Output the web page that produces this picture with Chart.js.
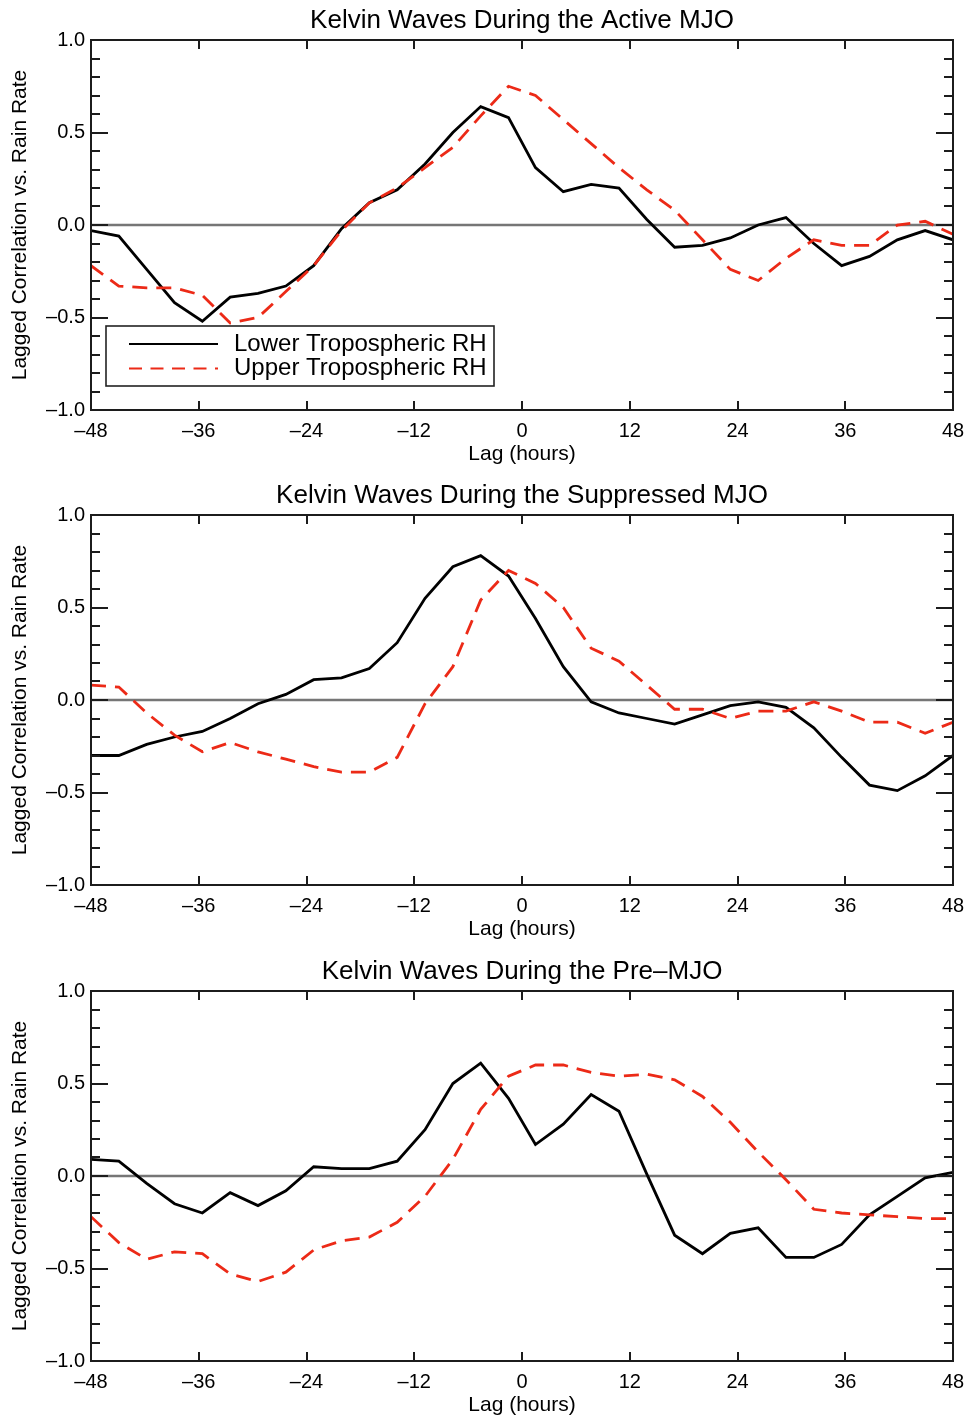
<!DOCTYPE html>
<html>
<head>
<meta charset="utf-8">
<title>Kelvin Waves lagged correlations</title>
<script src="https://cdn.jsdelivr.net/npm/chart.js@4.4.1/dist/chart.umd.min.js"></script>
<style>
  html, body { margin: 0; padding: 0; background: #ffffff; }
  #wrap { position: relative; width: 969px; height: 1418px; overflow: hidden; }
  canvas { position: absolute; left: 0; display: block; }
</style>
</head>
<body>
<div id="wrap">
  <canvas id="c0" width="969" height="475" style="top:0px"></canvas>
  <canvas id="c1" width="969" height="476" style="top:475px"></canvas>
  <canvas id="c2" width="969" height="467" style="top:951px"></canvas>
</div>
<script>
// ---------------- DATA ----------------
const lagHours = [-48, -44.9, -41.8, -38.7, -35.6, -32.5, -29.4, -26.3, -23.2, -20.1, -17.0, -13.9, -10.8, -7.7, -4.6, -1.5,
                  1.5, 4.6, 7.7, 10.8, 13.9, 17.0, 20.1, 23.2, 26.3, 29.4, 32.5, 35.6, 38.7, 41.8, 44.9, 48];

const activeLower = [-0.03, -0.06, -0.24, -0.42, -0.52, -0.39, -0.37, -0.33, -0.22, -0.02, 0.12, 0.19, 0.33, 0.50, 0.64, 0.58,
                     0.31, 0.18, 0.22, 0.20, 0.03, -0.12, -0.11, -0.07, 0.00, 0.04, -0.10, -0.22, -0.17, -0.08, -0.03, -0.08];
const activeUpper = [-0.22, -0.33, -0.34, -0.34, -0.38, -0.53, -0.50, -0.36, -0.22, -0.03, 0.12, 0.20, 0.31, 0.42, 0.59, 0.75,
                     0.70, 0.57, 0.44, 0.31, 0.19, 0.08, -0.08, -0.24, -0.30, -0.18, -0.08, -0.11, -0.11, 0.00, 0.02, -0.05];

const suppressedLower = [-0.30, -0.30, -0.24, -0.20, -0.17, -0.10, -0.02, 0.03, 0.11, 0.12, 0.17, 0.31, 0.55, 0.72, 0.78, 0.67,
                         0.44, 0.18, -0.01, -0.07, -0.10, -0.13, -0.08, -0.03, -0.01, -0.04, -0.15, -0.31, -0.46, -0.49, -0.41, -0.30];
const suppressedUpper = [0.08, 0.07, -0.07, -0.19, -0.28, -0.23, -0.28, -0.32, -0.36, -0.39, -0.39, -0.31, -0.02, 0.18, 0.54, 0.70,
                         0.63, 0.50, 0.28, 0.21, 0.08, -0.05, -0.05, -0.10, -0.06, -0.06, -0.01, -0.06, -0.12, -0.12, -0.18, -0.12];

const preLower = [0.09, 0.08, -0.04, -0.15, -0.20, -0.09, -0.16, -0.08, 0.05, 0.04, 0.04, 0.08, 0.25, 0.50, 0.61, 0.42,
                  0.17, 0.28, 0.44, 0.35, 0.01, -0.32, -0.42, -0.31, -0.28, -0.44, -0.44, -0.37, -0.21, -0.11, -0.01, 0.02];
const preUpper = [-0.22, -0.36, -0.45, -0.41, -0.42, -0.53, -0.57, -0.52, -0.40, -0.35, -0.33, -0.25, -0.11, 0.09, 0.36, 0.54,
                  0.60, 0.60, 0.56, 0.54, 0.55, 0.52, 0.43, 0.29, 0.13, -0.02, -0.18, -0.20, -0.21, -0.22, -0.23, -0.23];

const panelTitles = ['Kelvin Waves During the Active MJO',
                     'Kelvin Waves During the Suppressed MJO',
                     'Kelvin Waves During the Pre\u2013MJO'];
const seriesLabels = ['Lower Tropospheric RH', 'Upper Tropospheric RH'];
const xTickValues = [-48, -36, -24, -12, 0, 12, 24, 36, 48];
const yTickValues = [-1.0, -0.5, 0.0, 0.5, 1.0];
const xAxisTitle = 'Lag (hours)';
const yAxisTitle = 'Lagged Correlation vs. Rain Rate';

// ---------------- STYLE ----------------
const FONT = "'Liberation Sans', Arial, Helvetica, sans-serif";
const RED = '#ec2a17';
const FRAME = '#1c1c1c';
const dash = (s) => s.replace(/-/g, '\u2013');

const framePlugin = {
  id: 'idlFrame',
  beforeDatasetsDraw(chart) {
    const { ctx, chartArea: a, scales: { y } } = chart;
    const y0 = y.getPixelForValue(0);
    ctx.save();
    ctx.strokeStyle = '#767676';
    ctx.lineWidth = 2.6;
    ctx.beginPath();
    ctx.moveTo(a.left, y0);
    ctx.lineTo(a.right, y0);
    ctx.stroke();
    ctx.restore();
  },
  afterDatasetsDraw(chart) {
    const { ctx, chartArea: a, scales: { x, y } } = chart;
    ctx.save();
    ctx.strokeStyle = FRAME;
    ctx.lineWidth = 2;
    ctx.strokeRect(a.left, a.top, a.right - a.left, a.bottom - a.top);
    ctx.beginPath();
    for (let i = -10; i <= 10; i++) {
      const py = Math.round(y.getPixelForValue(i / 10));
      const len = (i % 5 === 0) ? 17 : 9;
      ctx.moveTo(a.left, py); ctx.lineTo(a.left + len, py);
      ctx.moveTo(a.right, py); ctx.lineTo(a.right - len, py);
    }
    x.ticks.forEach(t => {
      const px = Math.round(x.getPixelForValue(t.value));
      ctx.moveTo(px, a.bottom); ctx.lineTo(px, a.bottom - 9);
      ctx.moveTo(px, a.top); ctx.lineTo(px, a.top + 9);
    });
    ctx.stroke();
    ctx.restore();
  }
};

const boxLegendPlugin = {
  id: 'boxLegend',
  afterDraw(chart, args, opts) {
    if (!opts.show) return;
    const { ctx, chartArea: a } = chart;
    const left = a.left + 15, top = a.top + 286, w = 388, h = 60;
    ctx.save();
    ctx.fillStyle = '#ffffff';
    ctx.fillRect(left, top, w, h);
    ctx.strokeStyle = '#222';
    ctx.lineWidth = 1.6;
    ctx.strokeRect(left, top, w, h);
    chart.data.datasets.forEach((ds, i) => {
      const ly = top + 18 + i * 24.5;
      ctx.strokeStyle = ds.borderColor;
      ctx.lineWidth = 1.8;
      ctx.setLineDash(ds.borderDash && ds.borderDash.length ? [13, 8.5] : []);
      ctx.beginPath();
      ctx.moveTo(left + 23, ly);
      ctx.lineTo(left + 112, ly);
      ctx.stroke();
      ctx.setLineDash([]);
      ctx.fillStyle = '#000';
      ctx.font = '24px ' + FONT;
      ctx.textBaseline = 'middle';
      ctx.textAlign = 'left';
      ctx.fillText(ds.label, left + 128, ly);
    });
    ctx.restore();
  }
};

function makeChart(id, title, lower, upper, showLegend) {
  const canvas = document.getElementById(id);
  const H = canvas.height;
  const pts = (arr) => lagHours.map((h, i) => ({ x: h, y: arr[i] }));
  return new Chart(canvas, {
    type: 'line',
    data: {
      datasets: [
        { label: seriesLabels[0], data: pts(lower), borderColor: '#000000', borderWidth: 2.8,
          pointRadius: 0, tension: 0, fill: false, order: 1 },
        { label: seriesLabels[1], data: pts(upper), borderColor: RED, borderWidth: 2.8,
          borderDash: [15, 9], pointRadius: 0, tension: 0, fill: false, order: 0 }
      ]
    },
    options: {
      responsive: false,
      animation: false,
      events: [],
      layout: { padding: { left: 0, right: 16, top: 0, bottom: 0 } },
      plugins: {
        legend: { display: false },
        tooltip: { enabled: false },
        title: {
          display: true, text: title, color: '#000', fullSize: false,
          font: { family: FONT, size: 26, weight: 'normal', lineHeight: 1.2 },
          padding: { top: 5, bottom: 3.8 }
        },
        boxLegend: { show: showLegend }
      },
      scales: {
        x: {
          type: 'linear', min: -48, max: 48,
          afterBuildTicks: (s) => { s.ticks = xTickValues.map(v => ({ value: v })); },
          afterFit: (s) => { s.height = H - 410; s.paddingLeft = 0; s.paddingRight = 0; },
          grid: { display: false, drawTicks: false },
          border: { display: false },
          ticks: {
            color: '#000', padding: 9, maxRotation: 0, autoSkip: false,
            font: { family: FONT, size: 20 },
            callback: (v) => dash(String(v))
          },
          title: {
            display: true, text: xAxisTitle, color: '#000',
            font: { family: FONT, size: 21, lineHeight: 1.2 },
            padding: { top: 0, bottom: Math.max(0, H - 454 - 12.6) }
          }
        },
        y: {
          type: 'linear', min: -1, max: 1,
          afterBuildTicks: (s) => { s.ticks = yTickValues.map(v => ({ value: v })); },
          afterFit: (s) => { s.width = 91; s.paddingTop = 0; s.paddingBottom = 0; },
          grid: { display: false, drawTicks: false },
          border: { display: false },
          ticks: {
            color: '#000', padding: 6,
            font: { family: FONT, size: 20 },
            callback: (v) => dash(Number(v).toFixed(1))
          },
          title: {
            display: true, text: yAxisTitle, color: '#000',
            font: { family: FONT, size: 21, lineHeight: 1.2 },
            padding: { top: 8, bottom: 0 }
          }
        }
      }
    },
    plugins: [framePlugin, boxLegendPlugin]
  });
}

makeChart('c0', panelTitles[0], activeLower, activeUpper, true);
makeChart('c1', panelTitles[1], suppressedLower, suppressedUpper, false);
makeChart('c2', panelTitles[2], preLower, preUpper, false);
</script>
</body>
</html>
